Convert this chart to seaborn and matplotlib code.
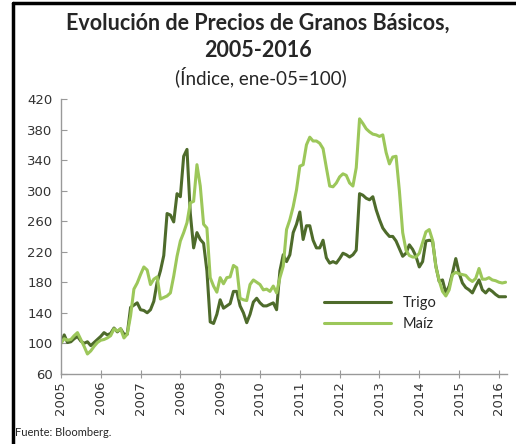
import numpy as np
import pandas as pd
import matplotlib
matplotlib.use("Agg")
import matplotlib.pyplot as plt
import seaborn as sns

sns.set_style("ticks")
plt.rcParams['font.family'] = ['Lato', 'DejaVu Sans']

# indices mensuales, ene-2005 .. mar-2016 (ene-05 = 100)
trigo = [100, 111, 101, 102, 106, 109, 103, 100, 102, 97, 101, 105,
         109, 114, 111, 113, 120, 115, 119, 112, 112, 147, 150, 153,
         144, 143, 140, 144, 155, 180, 195, 215, 270, 268, 259, 296,
         292, 345, 354, 270, 225, 245, 236, 231, 195, 128, 126, 138,
         157, 146, 149, 152, 168, 168, 149, 140, 127, 138, 154, 159,
         153, 149, 149, 151, 153, 144, 195, 216, 207, 216, 245, 256,
         272, 236, 254, 254, 235, 225, 225, 235, 212, 205, 207, 205,
         211, 218, 216, 213, 216, 222, 296, 294, 290, 288, 292, 275,
         262, 251, 245, 240, 240, 234, 224, 214, 218, 229, 223, 214,
         200, 207, 234, 235, 234, 201, 181, 183, 166, 175, 192, 211,
         192, 179, 173, 170, 166, 175, 183, 170, 166, 171, 168, 164,
         161, 161, 161]
maiz = [100, 106, 104, 105, 110, 114, 105, 96, 86, 90, 96, 101,
        104, 105, 107, 110, 119, 116, 119, 107, 112, 136, 171, 179,
        190, 200, 196, 177, 184, 187, 158, 160, 162, 166, 188, 214,
        234, 245, 258, 284, 286, 334, 306, 256, 251, 186, 175, 167,
        186, 178, 186, 187, 202, 199, 159, 157, 156, 177, 183, 180,
        177, 170, 171, 168, 175, 166, 186, 201, 249, 262, 279, 301,
        332, 334, 360, 370, 365, 365, 362, 355, 330, 306, 305, 310,
        318, 322, 320, 310, 306, 330, 394, 388, 381, 377, 374, 373,
        371, 373, 350, 335, 344, 345, 300, 245, 222, 215, 213, 213,
        218, 232, 246, 249, 235, 200, 182, 168, 162, 170, 190, 193,
        191, 190, 189, 184, 181, 185, 198, 184, 184, 186, 183, 182,
        180, 179, 180]
years = list(range(2005, 2017))

fechas = 2005 + np.arange(len(trigo)) / 12
df = pd.DataFrame({"fecha": fechas, "Trigo": trigo, "Maíz": maiz})
df = df.melt(id_vars="fecha", var_name="serie", value_name="indice")

fig = plt.figure(figsize=(5.16, 4.44), dpi=100)
ax = fig.add_axes([0.118, 0.158, 0.865, 0.619])

sns.lineplot(data=df, x="fecha", y="indice", hue="serie",
             palette={"Trigo": "#4e6b2b", "Maíz": "#9cc75a"},
             linewidth=2.2, ax=ax)

ax.set_xlim(2005, 2005 + 134.5 / 12)
ax.set_ylim(60, 420)
ax.set_yticks(range(60, 421, 40))
ax.set_xticks(years)
ax.set_xticklabels([str(y) for y in years], rotation=90,
                   family="DejaVu Sans", fontsize=9.5, color="#333333")
for t in ax.get_yticklabels():
    t.set_family("DejaVu Sans")
    t.set_fontsize(9.5)
    t.set_color("#333333")
ax.set_xlabel("")
ax.set_ylabel("")
sns.despine(ax=ax)
for s in ["left", "bottom"]:
    ax.spines[s].set_color("#999999")
    ax.spines[s].set_linewidth(1)
ax.tick_params(axis="x", direction="inout", length=6, color="#999999", pad=2)
ax.tick_params(axis="y", direction="in", length=4, color="#999999", pad=6)

ax.legend(frameon=False, loc="upper left", bbox_to_anchor=(0.56, 0.33),
          handlelength=4.6, fontsize=10.5, labelspacing=0.45)

fig.text(0.5, 0.948, "Evolución de Precios de Granos Básicos,",
         ha="center", va="center", fontsize=15.5, fontweight="bold")
fig.text(0.5, 0.887, "2005-2016", ha="center", va="center",
         fontsize=15.5, fontweight="bold")
fig.text(0.505, 0.828, "(Índice, ene-05=100)", ha="center", va="center",
         fontsize=13.5)
fig.text(0.03, 0.025, "Fuente: Bloomberg.", ha="left", va="center",
         fontsize=8)

# marco exterior (arriba e izquierda)
fig.add_artist(plt.Line2D([0.025, 0.025], [0, 0.993], color="black", lw=2.5,
                          transform=fig.transFigure))
fig.add_artist(plt.Line2D([0.025, 1.0], [0.993, 0.993], color="black", lw=2.5,
                          transform=fig.transFigure))

fig.savefig("out.png", dpi=100)
